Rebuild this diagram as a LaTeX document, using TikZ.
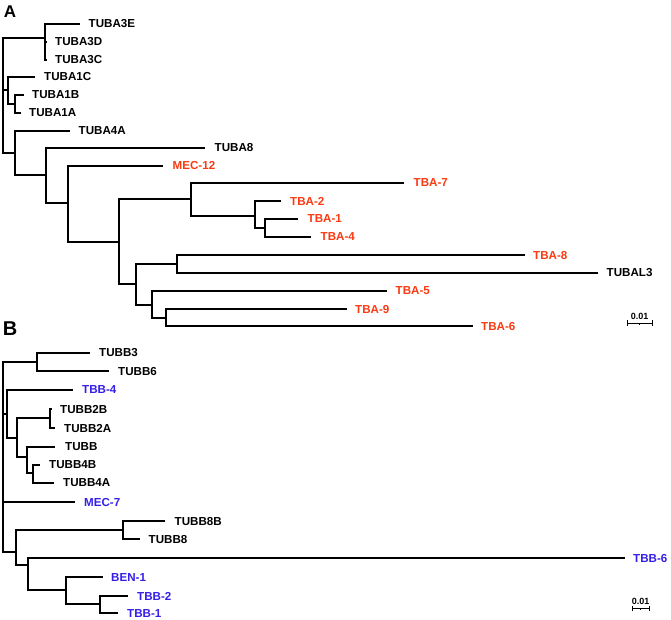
\documentclass[tikz,border=0pt]{standalone}
\usepackage{fontspec}
\setmainfont{Liberation Sans}
\usetikzlibrary{positioning,calc}
\definecolor{tbared}{RGB}{250,58,18}
\definecolor{tbbblue}{RGB}{52,30,232}

\begin{document}
\begin{tikzpicture}[x=1pt,y=-1pt,
		armA/.style={line width=2.5pt},
		armB/.style={line width=1.7pt},
		taxon/.style={inner sep=0pt,font=\fontsize{11.6}{12}\selectfont\bfseries},
		redtaxon/.style={taxon,text=tbared},
		bluetaxon/.style={taxon,text=tbbblue},
		scalebar/.style={line width=0.9pt},
		panel/.style={inner sep=0pt,font=\bfseries}]
	\useasboundingbox (0,0) rectangle (671,619);
	% panel A: alpha-tubulins
	\node[panel,font=\fontsize{17}{17}\selectfont\bfseries] (labA) at (10,12) {A};
	\coordinate (rA) at (3,95);
	\coordinate (nA3) at (45,38);
	\coordinate (nA3dc) at (45,51);
	\coordinate (nA1) at (8,90);
	\coordinate (nA1ba) at (15,104);
	\coordinate (nA4) at (15,153);
	\coordinate (nA8) at (46,175);
	\coordinate (nAm) at (68,203);
	\coordinate (nAt) at (119,242);
	\coordinate (nA7) at (191,199);
	\coordinate (nA2) at (255,216);
	\coordinate (nA14) at (265,228);
	\coordinate (nAb) at (136,284);
	\coordinate (nAl) at (177,264);
	\coordinate (nA5) at (152,305);
	\coordinate (nA96) at (166,318);
	% tips
	\coordinate (tA3e) at (80,24);
	\coordinate (tA3d) at (47,42);
	\coordinate (tA3c) at (47,60);
	\coordinate (tA1c) at (35,77);
	\coordinate (tA1b) at (24,95);
	\coordinate (tA1a) at (21,113);
	\coordinate (tA4a) at (70,131);
	\coordinate (tA8) at (205,148);
	\coordinate (tMec12) at (163,166);
	\coordinate (tTba7) at (404,183);
	\coordinate (tTba2) at (281,201);
	\coordinate (tTba1) at (298,219);
	\coordinate (tTba4) at (311,237);
	\coordinate (tTba8) at (525,255);
	\coordinate (tAl3) at (598,273);
	\coordinate (tTba5) at (387,291);
	\coordinate (tTba9) at (347,309);
	\coordinate (tTba6) at (473,326);
	\draw[armA] (rA) |- (nA3) (rA) |- (nA1) (rA) |- (nA4);
	\draw[armA] (nA3) |- (tA3e) (nA3) |- (nA3dc);
	\draw[armA] (nA3dc) |- (tA3d) (nA3dc) |- (tA3c);
	\draw[armA] (nA1) |- (tA1c) (nA1) |- (nA1ba);
	\draw[armA] (nA1ba) |- (tA1b) (nA1ba) |- (tA1a);
	\draw[armA] (nA4) |- (tA4a) (nA4) |- (nA8);
	\draw[armA] (nA8) |- (tA8) (nA8) |- (nAm);
	\draw[armA] (nAm) |- (tMec12) (nAm) |- (nAt);
	\draw[armA] (nAt) |- (nA7) (nAt) |- (nAb);
	\draw[armA] (nA7) |- (tTba7) (nA7) |- (nA2);
	\draw[armA] (nA2) |- (tTba2) (nA2) |- (nA14);
	\draw[armA] (nA14) |- (tTba1) (nA14) |- (tTba4);
	\draw[armA] (nAb) |- (nAl) (nAb) |- (nA5);
	\draw[armA] (nAl) |- (tTba8) (nAl) |- (tAl3);
	\draw[armA] (nA5) |- (tTba5) (nA5) |- (nA96);
	\draw[armA] (nA96) |- (tTba9) (nA96) |- (tTba6);
	\node[taxon,right=8.5pt of tA3e] (TUBA3E) {TUBA3E};
	\node[taxon,right=8pt of tA3d] (TUBA3D) {TUBA3D};
	\node[taxon,right=8pt of tA3c] (TUBA3C) {TUBA3C};
	\node[taxon,right=9pt of tA1c] (TUBA1C) {TUBA1C};
	\node[taxon,right=8pt of tA1b] (TUBA1B) {TUBA1B};
	\node[taxon,right=8pt of tA1a] (TUBA1A) {TUBA1A};
	\node[taxon,right=8.5pt of tA4a] (TUBA4A) {TUBA4A};
	\node[taxon,right=9.5pt of tA8] (TUBA8) {TUBA8};
	\node[redtaxon,right=9.5pt of tMec12] (MEC12) {MEC-12};
	\node[redtaxon,right=9.5pt of tTba7] (TBA7) {TBA-7};
	\node[redtaxon,right=9pt of tTba2] (TBA2) {TBA-2};
	\node[redtaxon,right=9.5pt of tTba1] (TBA1) {TBA-1};
	\node[redtaxon,right=9.5pt of tTba4] (TBA4) {TBA-4};
	\node[redtaxon,right=8pt of tTba8] (TBA8) {TBA-8};
	\node[taxon,right=8.5pt of tAl3] (TUBAL3) {TUBAL3};
	\node[redtaxon,right=8.5pt of tTba5] (TBA5) {TBA-5};
	\node[redtaxon,right=8pt of tTba9] (TBA9) {TBA-9};
	\node[redtaxon,right=8pt of tTba6] (TBA6) {TBA-6};
	% scale bar A
	\coordinate (sA1) at (627,323);
	\coordinate (sA2) at (652,323);
	\coordinate (sAm) at ($(sA1)!0.5!(sA2)$);
	\draw[scalebar] (sA1) -- (sA2);
	\draw[scalebar] (sA1) ++(0,-3) -- ++(0,6) (sA2) ++(0,-3) -- ++(0,6);
	\draw[scalebar] (sAm) -- ++(0,1.8);
	\node[inner sep=0pt,font=\fontsize{9}{9}\selectfont\bfseries,above=3.5pt of sAm] (sclA) {0.01};
	% panel B: beta-tubulins
	\node[panel,font=\fontsize{20}{20}\selectfont\bfseries] (labB) at (10,329) {B};
	\coordinate (rB) at (3,450);
	\coordinate (nB36) at (37,362);
	\coordinate (nB4) at (7,414);
	\coordinate (nB2) at (17,438);
	\coordinate (nB2ba) at (50,418);
	\coordinate (nBb) at (27,457);
	\coordinate (nB4ba) at (33,473);
	\coordinate (nB8) at (16,552);
	\coordinate (nB88) at (123,530);
	\coordinate (nB6) at (28,565);
	\coordinate (nBben) at (66,590);
	\coordinate (nB21) at (100,604);
	% tips
	\coordinate (tB3) at (90,353);
	\coordinate (tB6) at (109,371);
	\coordinate (tTbb4) at (73,390);
	\coordinate (tB2b) at (52,409);
	\coordinate (tB2a) at (55,428);
	\coordinate (tB) at (55,447);
	\coordinate (tB4b) at (40,465);
	\coordinate (tB4a) at (54,483);
	\coordinate (tMec7) at (75,502);
	\coordinate (tB8b) at (165,521);
	\coordinate (tB8) at (140,539);
	\coordinate (tTbb6) at (625,558);
	\coordinate (tBen1) at (103,577);
	\coordinate (tTbb2) at (128,596);
	\coordinate (tTbb1) at (118,613);
	\draw[armB] (rB) |- (nB36) (rB) |- (nB4) (rB) |- (tMec7) (rB) |- (nB8);
	\draw[armB] (nB36) |- (tB3) (nB36) |- (tB6);
	\draw[armB] (nB4) |- (tTbb4) (nB4) |- (nB2);
	\draw[armB] (nB2) |- (nB2ba) (nB2) |- (nBb);
	\draw[armB] (nB2ba) |- (tB2b) (nB2ba) |- (tB2a);
	\draw[armB] (nBb) |- (tB) (nBb) |- (nB4ba);
	\draw[armB] (nB4ba) |- (tB4b) (nB4ba) |- (tB4a);
	\draw[armB] (nB8) |- (nB88) (nB8) |- (nB6);
	\draw[armB] (nB88) |- (tB8b) (nB88) |- (tB8);
	\draw[armB] (nB6) |- (tTbb6) (nB6) |- (nBben);
	\draw[armB] (nBben) |- (tBen1) (nBben) |- (nB21);
	\draw[armB] (nB21) |- (tTbb2) (nB21) |- (tTbb1);
	\node[taxon,right=9pt of tB3] (TUBB3) {TUBB3};
	\node[taxon,right=9pt of tB6] (TUBB6) {TUBB6};
	\node[bluetaxon,right=9pt of tTbb4] (TBB4) {TBB-4};
	\node[taxon,right=8pt of tB2b] (TUBB2B) {TUBB2B};
	\node[taxon,right=9pt of tB2a] (TUBB2A) {TUBB2A};
	\node[taxon,right=10pt of tB] (TUBB) {TUBB};
	\node[taxon,right=9pt of tB4b] (TUBB4B) {TUBB4B};
	\node[taxon,right=9pt of tB4a] (TUBB4A) {TUBB4A};
	\node[bluetaxon,right=9pt of tMec7] (MEC7) {MEC-7};
	\node[taxon,right=9.5pt of tB8b] (TUBB8B) {TUBB8B};
	\node[taxon,right=8.5pt of tB8] (TUBB8) {TUBB8};
	\node[bluetaxon,right=8pt of tTbb6] (TBB6) {TBB-6};
	\node[bluetaxon,right=8pt of tBen1] (BEN1) {BEN-1};
	\node[bluetaxon,right=9pt of tTbb2] (TBB2) {TBB-2};
	\node[bluetaxon,right=9pt of tTbb1] (TBB1) {TBB-1};
	% scale bar B
	\coordinate (sB1) at (632,608);
	\coordinate (sB2) at (649,608);
	\coordinate (sBm) at ($(sB1)!0.5!(sB2)$);
	\draw[scalebar] (sB1) -- (sB2);
	\draw[scalebar] (sB1) ++(0,-2.5) -- ++(0,5) (sB2) ++(0,-2.5) -- ++(0,5);
	\draw[scalebar] (sBm) -- ++(0,1.8);
	\node[inner sep=0pt,font=\fontsize{9}{9}\selectfont\bfseries,above=3pt of sBm] (sclB) {0.01};
\end{tikzpicture}
\end{document}
